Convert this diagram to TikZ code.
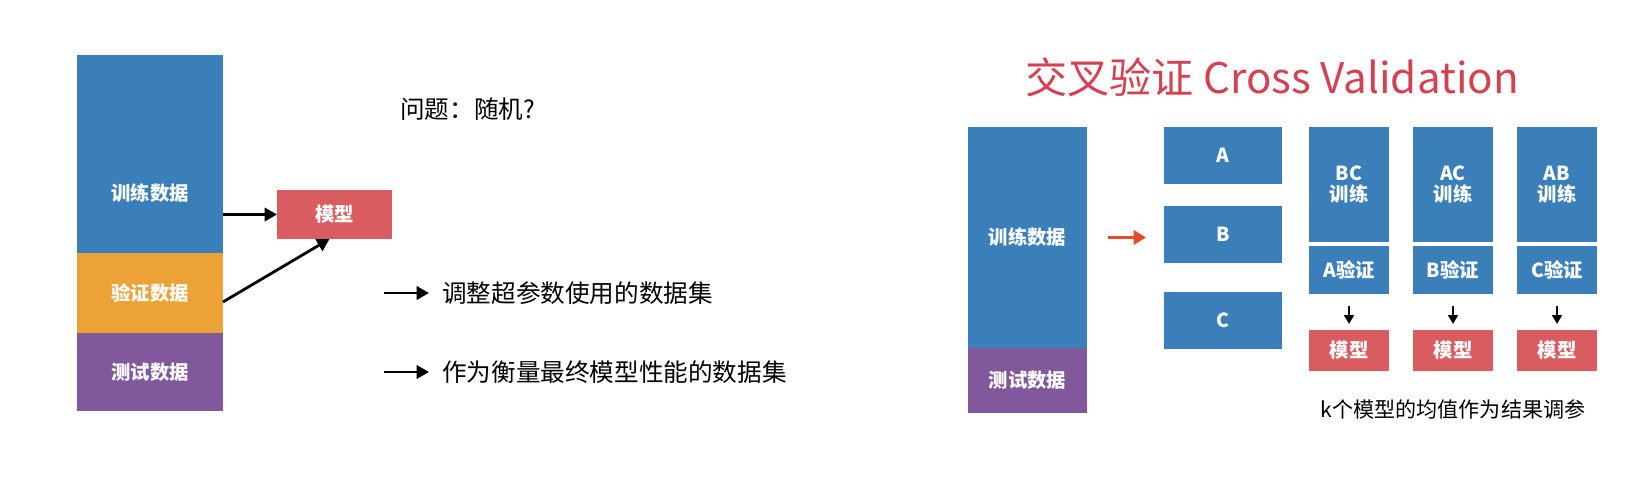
\documentclass[tikz,border=0pt]{standalone}
\usepackage{fontspec}
\setmainfont{Noto Sans CJK SC}
\usepackage{xcolor}
\usepackage{tikz}
\usetikzlibrary{arrows.meta, positioning}
\definecolor{trainblue}{RGB}{58,126,186}
\definecolor{valorange}{RGB}{237,162,56}
\definecolor{testpurple}{RGB}{128,88,155}
\definecolor{modelred}{RGB}{217,92,96}
\definecolor{titlered}{RGB}{212,66,82}
\definecolor{pointred}{RGB}{226,78,44}
\tikzset{
  datablock/.style={rectangle, inner sep=0pt, outer sep=0pt, align=center,
    text=white, font=\fontsize{11}{12}\selectfont\bfseries},
  trainblock/.style={datablock, fill=trainblue},
  valblock/.style={datablock, fill=valorange},
  testblock/.style={datablock, fill=testpurple},
  modelblock/.style={datablock, fill=modelred},
  note/.style={font=\fontsize{14}{17}\selectfont, inner sep=0pt, anchor=west},
  arrow/.style={-{Triangle[length=7pt, width=7.5pt]}, line width=1.6pt},
  smallarrow/.style={-{Triangle[length=5pt, width=5.5pt]}, line width=1.2pt},
  redarrow/.style={-{Triangle[length=7pt, width=8pt]}, line width=2pt, color=pointred},
}
\begin{document}
\begin{tikzpicture}[x=0.02cm, y=-0.02cm, node distance=0.44cm]
  \useasboundingbox (0,0) rectangle (1652,490);
  % left: train / validation / test split
  \node[trainblock, minimum width=2.92cm, minimum height=3.96cm]
    (trainL) at (150,154) {};
  \node[datablock] (trainLtxt) at (150,193) {训练数据};
  \node[valblock, minimum width=2.92cm, minimum height=1.6cm, below=0cm of trainL]
    (valL) {验证数据};
  \node[testblock, minimum width=2.92cm, minimum height=1.56cm, below=0cm of valL]
    (testL) {测试数据};
  \node[modelblock, minimum width=2.3cm, minimum height=0.98cm]
    (modelL) at (334.5,214.5) {模型};
  \draw[arrow] (trainL.east |- modelL) -- (modelL);
  \draw[arrow] ([yshift=-0.18cm]valL.east) -- ([xshift=-0.1cm]modelL.south);
  \node[note] (question) at (400,109) {问题：随机?};
  \coordinate (tuneArr) at (384,293);
  \node[note] (tuneTxt) at (442,293) {调整超参数使用的数据集};
  \coordinate (testArr) at (384,372);
  \node[note] (testTxt) at (442,372) {作为衡量最终模型性能的数据集};
  \draw[arrow, shorten >=0.26cm] (tuneArr) -- (tuneTxt.west);
  \draw[arrow, shorten >=0.26cm] (testArr) -- (testTxt.west);
  % right: cross validation
  \node[font=\fontsize{24}{28}\selectfont, text=titlered]
    (title) at (1272,77) {交叉验证 Cross Validation};
  \node[trainblock, minimum width=2.38cm, minimum height=4.42cm]
    (trainR) at (1027.5,237.5) {训练数据};
  \node[testblock, minimum width=2.38cm, minimum height=1.3cm, below=0cm of trainR]
    (testR) {测试数据};
  \node[trainblock, minimum width=2.36cm, minimum height=1.14cm]
    (foldA) at (1223,155.5) {A};
  \node[trainblock, minimum width=2.36cm, minimum height=1.14cm, below=0.44cm of foldA]
    (foldB) {B};
  \node[trainblock, minimum width=2.36cm, minimum height=1.14cm, below=0.58cm of foldB]
    (foldC) {C};
  \draw[redarrow, shorten <=0.42cm, shorten >=0.36cm]
    (trainR.east) -- (trainR.east -| foldB.west);
  \node[trainblock, minimum width=1.6cm, minimum height=2.3cm]
    (trainBC) at (1349,184.5) {BC\\训练};
  \node[trainblock, minimum width=1.6cm, minimum height=0.96cm, below=0.08cm of trainBC]
    (valA) {A验证};
  \node[modelblock, minimum width=1.6cm, minimum height=0.82cm, below=0.72cm of valA]
    (modelA) {模型};
  \node[trainblock, minimum width=1.6cm, minimum height=2.3cm]
    (trainAC) at (1453,184.5) {AC\\训练};
  \node[trainblock, minimum width=1.6cm, minimum height=0.96cm, below=0.08cm of trainAC]
    (valB) {B验证};
  \node[modelblock, minimum width=1.6cm, minimum height=0.82cm, below=0.72cm of valB]
    (modelB) {模型};
  \node[trainblock, minimum width=1.6cm, minimum height=2.3cm]
    (trainAB) at (1557,184.5) {AB\\训练};
  \node[trainblock, minimum width=1.6cm, minimum height=0.96cm, below=0.08cm of trainAB]
    (valC) {C验证};
  \node[modelblock, minimum width=1.6cm, minimum height=0.82cm, below=0.72cm of valC]
    (modelC) {模型};
  \draw[smallarrow, shorten <=0.24cm, shorten >=0.12cm] (valA) -- (modelA);
  \draw[smallarrow, shorten <=0.24cm, shorten >=0.12cm] (valB) -- (modelB);
  \draw[smallarrow, shorten <=0.24cm, shorten >=0.12cm] (valC) -- (modelC);
  \node[font=\fontsize{12}{14}\selectfont, below=0.46cm of modelB]
    (summary) {k个模型的均值作为结果调参};
\end{tikzpicture}
\end{document}
